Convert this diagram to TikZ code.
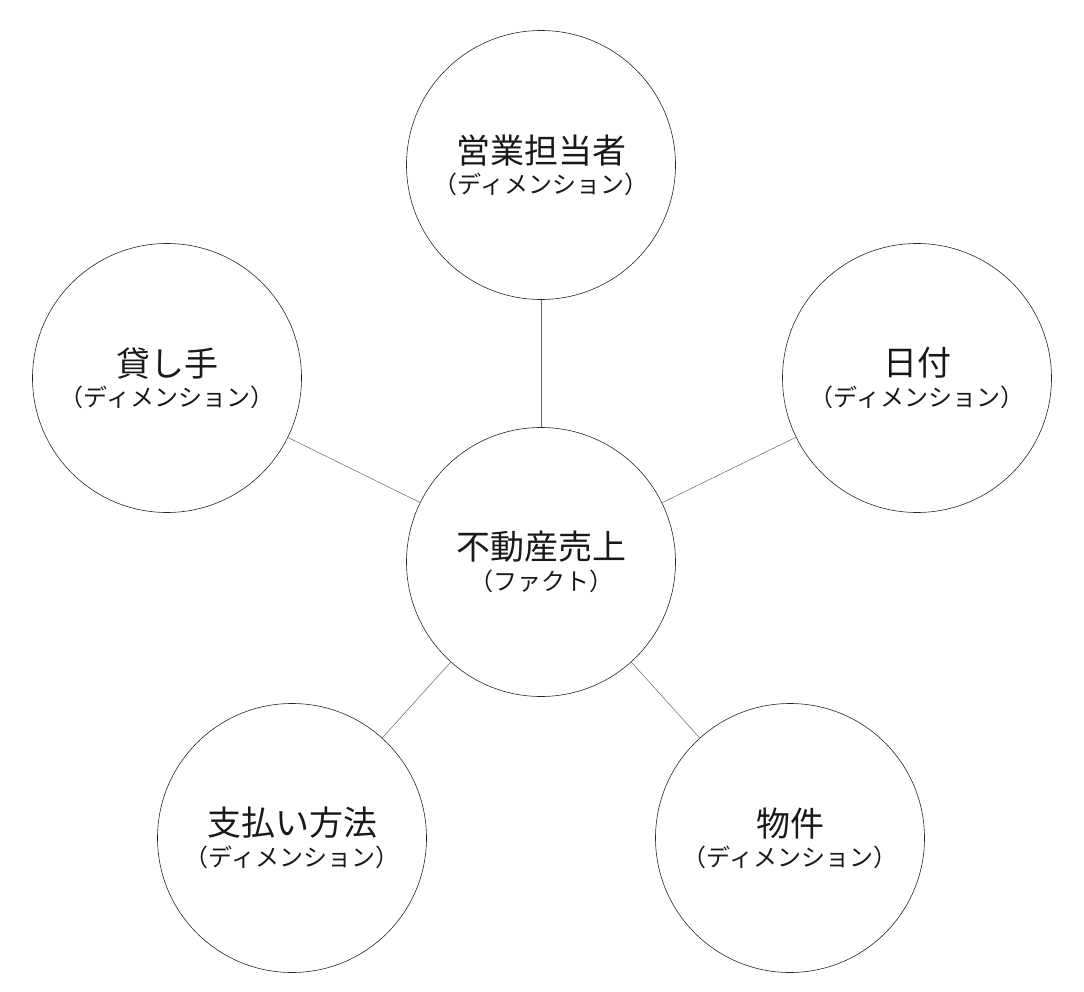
\documentclass[tikz,border=0pt]{standalone}
\usepackage{fontspec}
\setmainfont{Noto Sans CJK JP}
\begin{document}
\begin{tikzpicture}[x=1pt,y=-1pt,
  c/.style={circle,draw=black!85,line width=0.6pt,minimum size=269pt,inner sep=0pt,align=center,text=black!90},
  l/.style={draw=black!60,line width=0.5pt}]
\useasboundingbox (0,0) rectangle (1084,992);
\newcommand{\lab}[2]{{\fontsize{34}{40}\selectfont #1}\\[6pt]{\fontsize{24}{28}\selectfont #2}}
\node[c] (f) at (541,562) {\lab{不動産売上}{（ファクト）}};
\node[c] (t) at (541,165) {\lab{営業担当者}{（ディメンション）}};
\node[c] (le) at (167,378) {\lab{貸し手}{（ディメンション）}};
\node[c] (r) at (917,378) {\lab{日付}{（ディメンション）}};
\node[c] (bl) at (292,838) {\lab{支払い方法}{（ディメンション）}};
\node[c] (br) at (790,838) {\lab{物件}{（ディメンション）}};
\foreach \n in {t,le,r,bl,br} \draw[l] (f) -- (\n);
\end{tikzpicture}
\end{document}
